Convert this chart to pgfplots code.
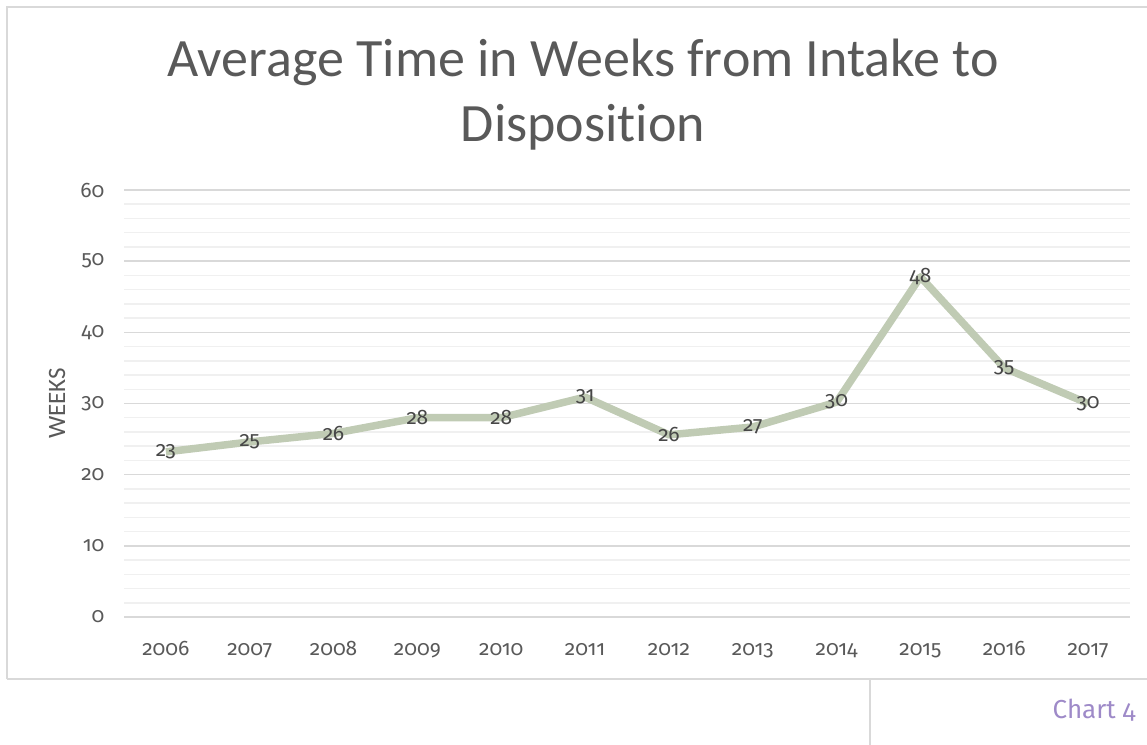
\documentclass[border=0pt]{standalone}
\usepackage{fontspec}
\setmainfont{Fira Sans}[Numbers=OldStyle]
\newfontfamily\titlefont{Carlito}[Ligatures=NoCommon]
\usepackage{pgfplots}
\usepackage{pgfplotstable}
\pgfplotsset{compat=1.18}
\definecolor{txtgray}{HTML}{595959}
\definecolor{majgrid}{HTML}{D9D9D9}
\definecolor{mingrid}{HTML}{F0F0F0}
\definecolor{linegreen}{HTML}{C0CBB4}
\definecolor{chartpurple}{HTML}{9E8AC8}
\pgfplotstableread{
x y lab
0 23.2 23
1 24.6 25
2 25.8 26
3 28.0 28
4 28.0 28
5 30.9 31
6 25.6 26
7 26.7 27
8 30.2 30
9 47.8 48
10 35.0 35
11 30.0 30
}\datatable
\begin{document}
\begin{tikzpicture}[x=1pt,y=1pt]
\path[use as bounding box] (0,0) rectangle (1147,-744);
\draw[majgrid, line width=2pt] (7,-679) -- (7,-7) -- (1150,-7);
\draw[majgrid, line width=2pt] (7,-679) -- (1150,-679);
\draw[majgrid, line width=1.5pt] (870,-679) -- (870,-750);
\node[anchor=base east, text=chartpurple, font=\fontsize{26}{32}\selectfont] at (1139,-718) {Chart 4};
\node[align=center, text=txtgray, font=\titlefont\fontsize{54}{65}\selectfont] at (583,-95) {Average Time in Weeks from Intake to\\Disposition};
\begin{axis}[
  at={(124pt,-617pt)}, anchor=south west,
  scale only axis, width=1006pt, height=427pt,
  xmin=-0.5, xmax=11.5, ymin=0, ymax=60,
  xtick={0,...,11},
  xticklabels={2006,2007,2008,2009,2010,2011,2012,2013,2014,2015,2016,2017},
  ytick={0,10,...,60},
  minor y tick num=4,
  ymajorgrids, yminorgrids,
  major grid style={majgrid, line width=1.5pt},
  minor grid style={mingrid, line width=1.5pt},
  axis line style={draw=none},
  tick style={draw=none},
  /pgf/number format/assume math mode=true,
  ticklabel style={text=txtgray, font=\fontsize{21}{24}\selectfont},
  yticklabel style={xshift=-16pt},
  xticklabel style={anchor=base, yshift=-38pt},
  ylabel={WEEKS},
  ylabel style={at={(axis description cs:-0.0666,0.5)}, anchor=center, rotate=0, text=txtgray, font=\titlefont\fontsize{25}{28}\selectfont},
  clip=false,
]
\addplot[linegreen, line width=7.5pt, line join=round,
  nodes near coords, point meta=explicit symbolic,
  every node near coord/.style={anchor=center, text=black!72, font=\fontsize{21}{24}\selectfont}]
  table[x=x, y=y, meta=lab] {\datatable};
\end{axis}
\end{tikzpicture}
\end{document}
